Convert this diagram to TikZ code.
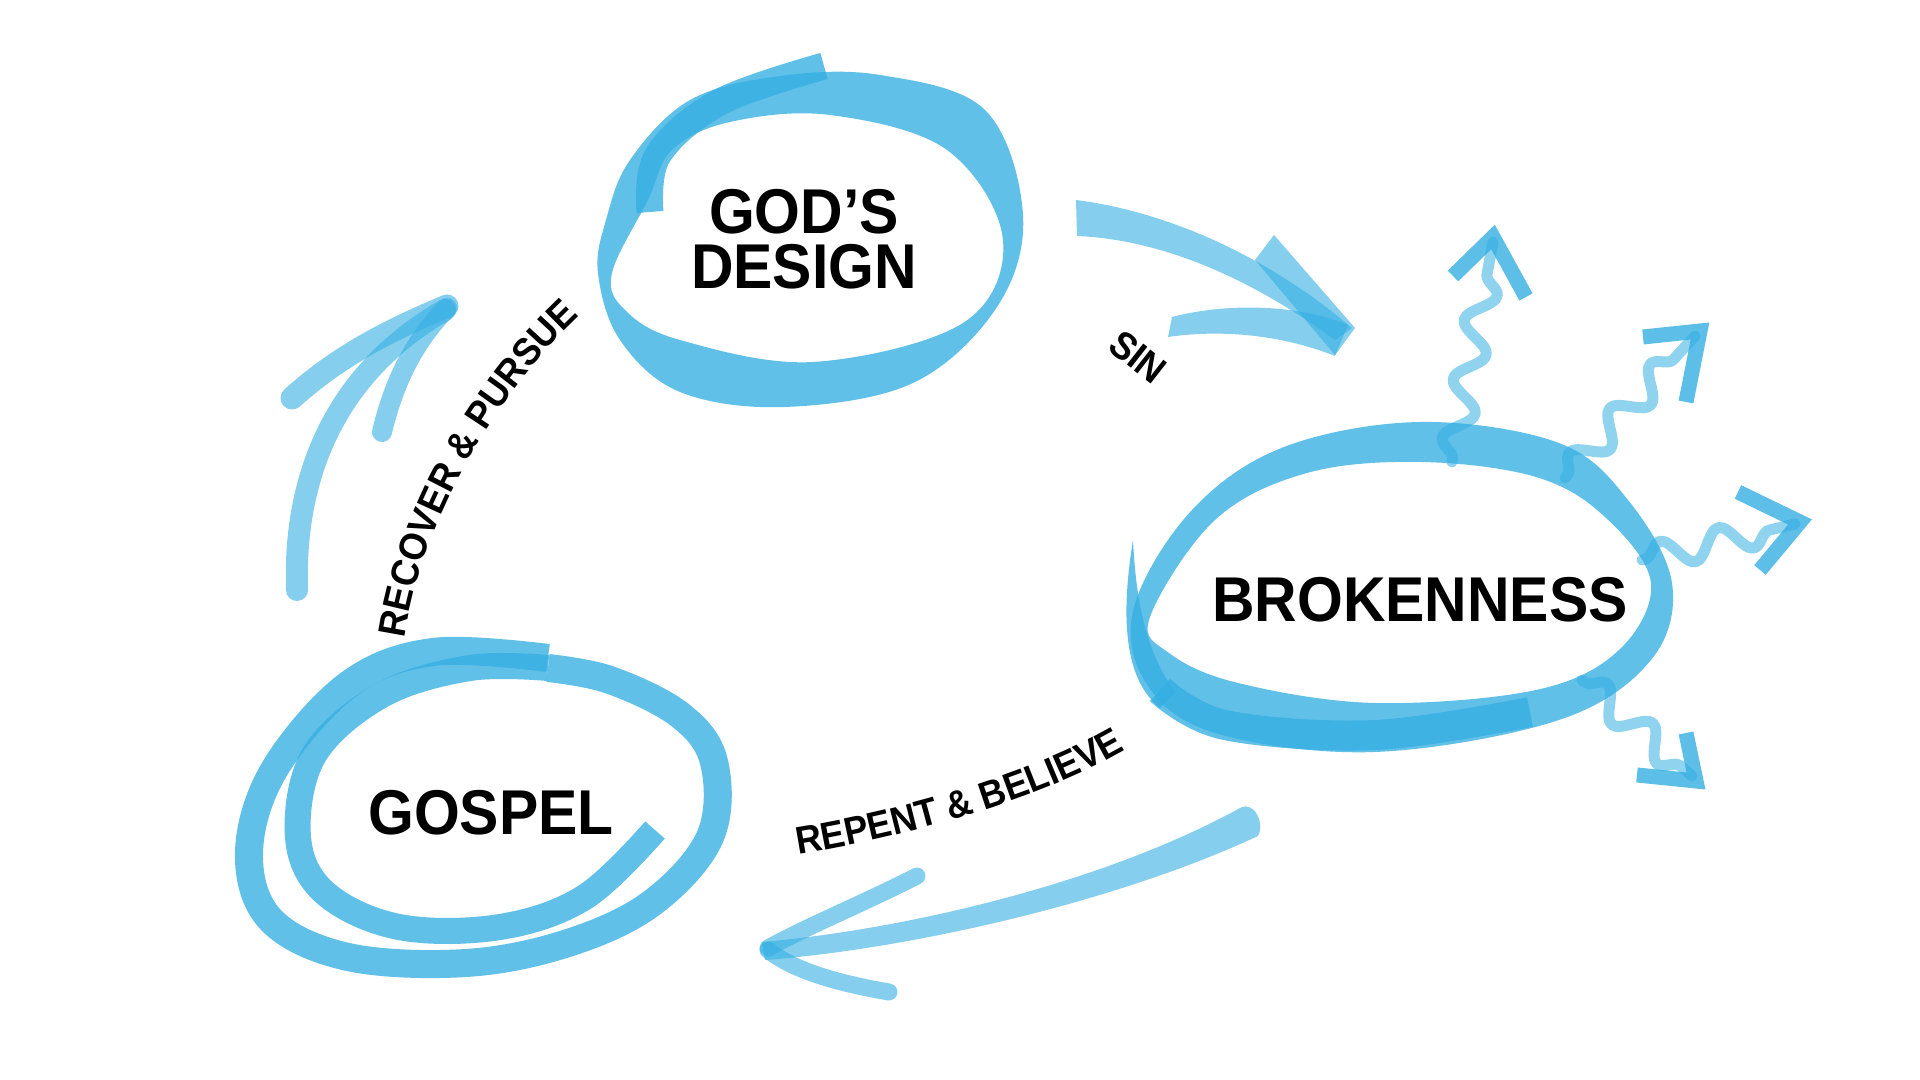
\documentclass[tikz,border=0pt]{standalone}
\usepackage{fontspec}
\newfontfamily\lblfont[FakeStretch=0.93]{Liberation Sans}
\usetikzlibrary{decorations.pathmorphing,decorations.text}
\definecolor{brushblue}{RGB}{52,174,226}
\tikzset{
  ringfill/.style={fill=brushblue, fill opacity=0.78, even odd rule},
  ringstroke/.style={draw=brushblue, draw opacity=0.78, line width=#1, line cap=round, line join=round},
  arrowfill/.style={fill=brushblue, fill opacity=0.6},
  arrowstroke/.style={draw=brushblue, draw opacity=0.6, line width=#1, line cap=round},
  wavy/.style={draw=brushblue, draw opacity=0.55, line width=0.11cm, line cap=round, line join=round, decorate,
    decoration={snake, amplitude=0.14cm, segment length=0.6cm, pre length=0.03cm, post length=0.15cm}},
  chevron/.style={draw=brushblue, draw opacity=0.8, line width=0.15cm, line cap=butt, line join=miter},
  mainlbl/.style={font=\lblfont\bfseries\fontsize{18}{15.6}\selectfont, text=black, align=center, inner sep=0pt},
  smalllbl/.style={font=\lblfont\bfseries\fontsize{11}{13}\selectfont, text=black, inner sep=0pt},
}
\begin{document}
\begin{tikzpicture}[x=0.01cm, y=-0.01cm]
\useasboundingbox (0,0) rectangle (1920,1080);

% ---------- God's Design ring ----------
\fill[ringfill] plot[smooth cycle, tension=0.6] coordinates {(598,273) (620,340) (680,392) (785,407) (913,383) (997,307) (1023,215) (985,110) (880,75) (780,76) (690,100) (630,160) (606,220)}
  plot[smooth cycle, tension=0.6] coordinates {(612,273) (625,310) (680,340) (813,362) (963,323) (1003,240) (947,150) (830,115) (730,122) (672,150) (648,200)};
\draw[ringstroke=0.27cm, line cap=butt] plot[smooth, tension=0.6] coordinates {(650,212) (658,155) (720,102) (824,66)};

% ---------- Brokenness ring ----------
\fill[ringfill] plot[smooth cycle, tension=0.6] coordinates {(1134,607) (1192,510) (1284,447) (1421,422) (1559,443) (1628,500) (1672,583) (1651,660) (1559,720) (1375,752) (1215,733) (1146,683)}
  plot[smooth cycle, tension=0.6] coordinates {(1150,617) (1215,520) (1307,473) (1421,462) (1536,477) (1605,517) (1651,583) (1619,650) (1536,690) (1375,703) (1238,683) (1169,653)};
\fill[brushblue, fill opacity=0.78] (1133,540) .. controls (1120,620) and (1125,680) .. (1160,708) -- (1175,692) .. controls (1145,650) and (1136,600) .. (1133,540) -- cycle;
\draw[ringstroke=0.3cm, line cap=butt] plot[smooth, tension=0.6] coordinates {(1160,690) (1225,725) (1375,735) (1530,712)};

% ---------- Gospel ring (one brush stroke in two passes) ----------
\draw[ringstroke=0.28cm, line cap=butt] plot[smooth, tension=0.6] coordinates {(548,658) (433,652) (348,685) (274,770) (249,853) (271,920) (348,957) (466,963) (568,943) (652,903) (710,837) (714,762) (680,715) (610,680) (548,668)};
\draw[ringstroke=0.26cm, line cap=butt] plot[smooth, tension=0.6] coordinates {(548,668) (470,668) (382,695) (314,755) (298,837) (325,893) (399,927) (500,927) (585,897) (655,830)};

% ---------- main labels ----------
\node[mainlbl] (gods) at (804,239) {GOD’S\\DESIGN};
\node[mainlbl, anchor=base] (broken) at (1420,622) {BROKENNESS};
\node[mainlbl, anchor=base] (gospel) at (491,835) {GOSPEL};

% ---------- SIN arrow ----------
\fill[arrowfill] (1076,200) .. controls (1170,212) and (1270,258) .. (1352,328) -- (1335,340) .. controls (1260,285) and (1170,240) .. (1077,236) -- cycle;
\fill[arrowfill] (1255,260) -- (1274,235) -- (1355,328) -- (1335,355) -- cycle;
\fill[arrowfill] (1168,337) -- (1172,317) .. controls (1230,302) and (1300,305) .. (1348,325) -- (1335,356) .. controls (1290,338) and (1230,328) .. (1168,337) -- cycle;
\node[smalllbl, rotate=-38] (sin) at (1138,357) {SIN};

% ---------- Recover arrow ----------
\draw[arrowstroke=0.22cm] (297,590) .. controls (293,470) and (340,370) .. (445,310);
\draw[arrowstroke=0.23cm] (292,398) .. controls (340,355) and (390,330) .. (447,306);
\draw[arrowstroke=0.2cm] (382,432) .. controls (392,390) and (410,345) .. (447,308);
\path[decorate, decoration={text along path, text align=center,
  text={|\lblfont\bfseries\fontsize{11}{13}\selectfont|RECOVER {\&} PURSUE}}]
  (402,659) .. controls (415,520) and (505,380) .. (595,302);

% ---------- Repent arrow ----------
\fill[arrowfill] (762,942) .. controls (900,930) and (1100,885) .. (1240,808) .. controls (1255,800) and (1265,825) .. (1258,836) .. controls (1110,905) and (900,950) .. (765,960) -- cycle;
\draw[arrowstroke=0.17cm] (917,876) .. controls (860,905) and (810,925) .. (768,948);
\draw[arrowstroke=0.17cm] (768,950) .. controls (790,968) and (830,982) .. (889,992);
\path[decorate, decoration={text along path, text align=center,
  text={|\lblfont\bfseries\fontsize{11}{13}\selectfont|REPENT {\&} BELIEVE}}]
  (776,858) .. controls (890,842) and (1050,800) .. (1145,738);

% ---------- wavy arrows ----------
\coordinate (w1s) at (1452,462); \coordinate (w1t) at (1493,242);
\coordinate (w2s) at (1565,478); \coordinate (w2t) at (1695,336);
\coordinate (w3s) at (1642,560); \coordinate (w3t) at (1795,524);
\coordinate (w4s) at (1582,680); \coordinate (w4t) at (1692,776);
\draw[wavy] (w1s) -- (w1t);
\draw[wavy] (w2s) -- (w2t);
\draw[wavy] (w3s) -- (w3t);
\draw[wavy] (w4s) -- (w4t);
\draw[chevron] (1453,276) -- (1493,237) -- (1526,297);
\draw[chevron] (1643,337) -- (1700,331) -- (1686,402);
\draw[chevron] (1738,492) -- (1800,522) -- (1760,570);
\draw[chevron] (1637,775) -- (1696,781) -- (1686,733);
\end{tikzpicture}
\end{document}
